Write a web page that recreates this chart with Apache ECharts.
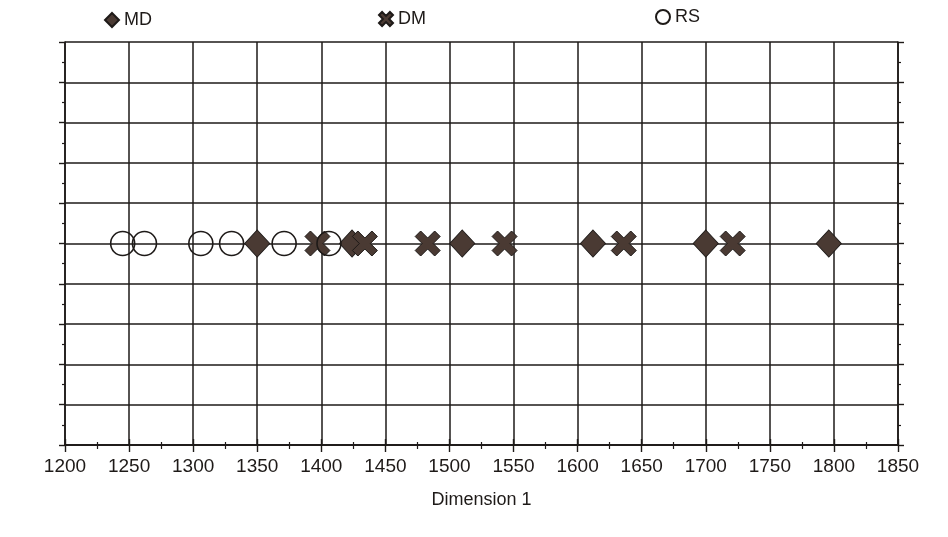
<!DOCTYPE html>
<html>
<head>
<meta charset="utf-8">
<script src="https://cdn.jsdelivr.net/npm/echarts@6/dist/echarts.min.js"></script>
<style>
  html, body { margin: 0; padding: 0; background: #fff; }
  #chart { width: 948px; height: 537px; }
</style>
</head>
<body>
<div id="chart"></div>
<script>
// Dimension 1 values, one row per group
let mdValues = [1350, 1424, 1510, 1612, 1700, 1796];
let dmValues = [1397, 1434, 1483, 1543, 1636, 1721];
let rsValues = [1245, 1262, 1306, 1330, 1371, 1406];
let rowLevel = 5;   // all points sit on the middle grid line
let xTicks = [1200, 1250, 1300, 1350, 1400, 1450, 1500, 1550, 1600, 1650, 1700, 1750, 1800, 1850];

let ink = '#1e1a18';
let fill = '#4a3a33';
let crossPath = 'path://M0,2.2 L2.2,0 L5,2.8 L7.8,0 L10,2.2 L7.2,5 L10,7.8 L7.8,10 L5,7.2 L2.2,10 L0,7.8 L2.8,5 Z';
let font = '"Liberation Sans Narrow", "Liberation Sans", Arial, sans-serif';

let toPoints = function(xs){
    return xs.map(function(x){ return [x, rowLevel]; });
};

let chart = echarts.init(document.getElementById('chart'));

let axisCommon = {
    axisLine: {lineStyle: {color: ink, width: 1.6}},
    axisTick: {show: true, length: 6, lineStyle: {color: ink, width: 1.4}},
    minorTick: {show: true, splitNumber: 2, length: 3, lineStyle: {color: ink, width: 1.2}}
};

let option = {
    backgroundColor: '#fff',
    animation: false,
    legend: [
        {data: ['MD'], left: 104, top: 11},
        {data: ['DM'], left: 378, top: 10},
        {data: ['RS'], left: 655, top: 8}
    ].map(function(l){
        return Object.assign({
            itemWidth: 14, itemHeight: 14, padding: 0, itemGap: 0,
            textStyle: {fontFamily: font, fontSize: 18, color: ink}
        }, l);
    }),
    grid: {left: 65, right: 50, top: 42, bottom: 92},
    xAxis: [
        Object.assign({}, axisCommon, {
            type: 'value', position: 'bottom',
            min: xTicks[0], max: xTicks[xTicks.length - 1], interval: 50,
            name: 'Dimension 1', nameLocation: 'middle', nameGap: 46,
            nameTextStyle: {fontFamily: font, fontSize: 18, color: ink},
            axisLabel: {fontFamily: font, fontSize: 19, color: ink, margin: 12,
                formatter: function(v){ return String(v); }},
            axisTick: {show: true, length: 7, lineStyle: {color: ink, width: 1.4}},
            minorTick: {show: true, splitNumber: 2, length: 4, lineStyle: {color: ink, width: 1.2}},
            splitLine: {show: true, lineStyle: {color: ink, width: 1.5}}
        }),
        Object.assign({}, axisCommon, {
            type: 'value', position: 'top',
            min: xTicks[0], max: xTicks[xTicks.length - 1], interval: 50,
            axisLabel: {show: false},
            splitLine: {show: false}
        })
    ],
    yAxis: [
        Object.assign({}, axisCommon, {
            type: 'value', position: 'left', min: 0, max: 10, interval: 1,
            axisLabel: {show: false},
            splitLine: {show: true, lineStyle: {color: ink, width: 1.5}}
        }),
        Object.assign({}, axisCommon, {
            type: 'value', position: 'right', min: 0, max: 10, interval: 1,
            axisLabel: {show: false},
            splitLine: {show: false}
        })
    ],
    series: [
        {
            name: 'MD', type: 'scatter', data: toPoints(mdValues),
            symbol: 'diamond', symbolSize: [25, 27],
            itemStyle: {color: fill, borderColor: ink, borderWidth: 1, opacity: 1}
        },
        {
            name: 'DM', type: 'scatter', data: toPoints(dmValues),
            symbol: crossPath, symbolSize: 25,
            itemStyle: {color: fill, borderColor: ink, borderWidth: 1, opacity: 1}
        },
        {
            name: 'RS', type: 'scatter', data: toPoints(rsValues),
            symbol: 'circle', symbolSize: 24,
            itemStyle: {color: 'rgba(0,0,0,0)', borderColor: ink, borderWidth: 1.6, opacity: 1}
        }
    ]
};

chart.setOption(option);
</script>
</body>
</html>
